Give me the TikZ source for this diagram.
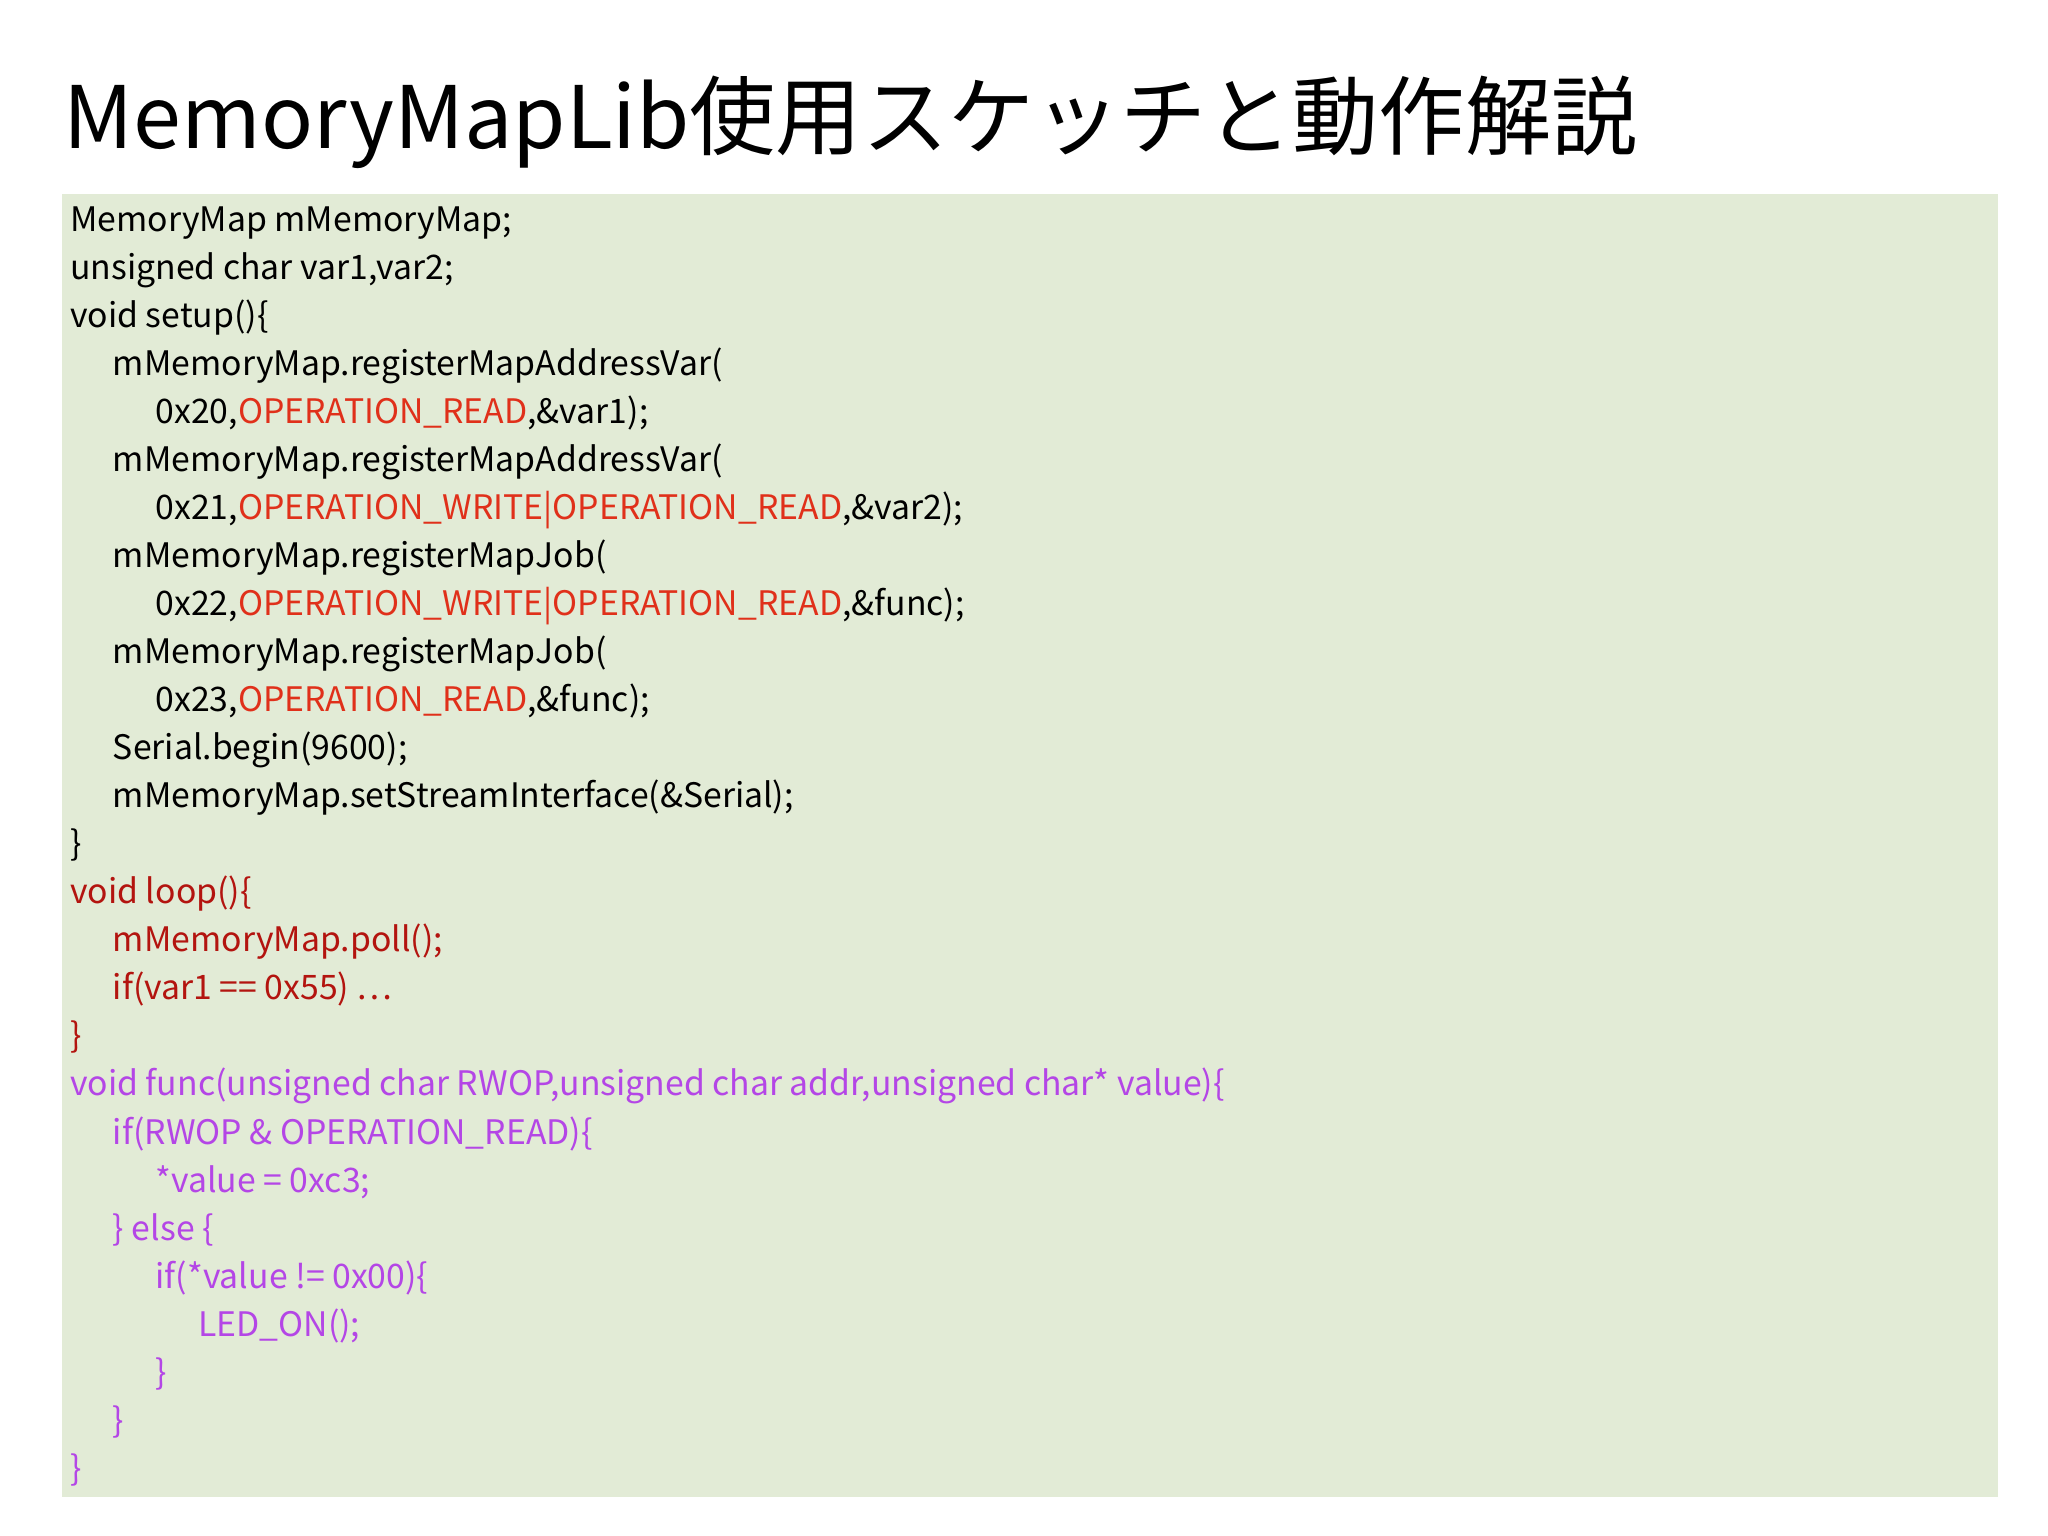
\documentclass[tikz,border=0pt]{standalone}
\usepackage{fontspec}
\setmainfont{Noto Sans CJK JP}
\definecolor{bg}{HTML}{E2EBD6}
\definecolor{opred}{HTML}{E0301A}
\definecolor{lpred}{HTML}{B3140F}
\definecolor{fpur}{HTML}{B446E6}
\begin{document}
\begin{tikzpicture}[x=0.013128cm,y=-0.013128cm,
  code/.style={anchor=base west,inner sep=0pt,font=\fontsize{9.6pt}{11pt}\selectfont},
  ]
\useasboundingbox (0,0) rectangle (1560,1170);
\fill[white] (0,0) rectangle (1560,1170);
\fill[bg] (47,148) rectangle (1522,1140);
\node[anchor=base west,inner sep=0pt,font=\fontsize{24.5pt}{28pt}\selectfont] (title) at (48,113) {MemoryMapLib使用スケッチと動作解説};
\newcommand{\cl}[4]{\node[code,text=#3] (#1) at ({53+32.5*#2},{176+36.6*#1}) {#4};}
\newcommand{\OP}[1]{\textcolor{opred}{#1}}
\cl{0}{0}{black}{MemoryMap mMemoryMap;}
\cl{1}{0}{black}{unsigned char var1,var2;}
\cl{2}{0}{black}{void setup()\{}
\cl{3}{1}{black}{mMemoryMap.registerMapAddressVar(}
\cl{4}{2}{black}{0x20,\OP{OPERATION\_READ},\&var1);}
\cl{5}{1}{black}{mMemoryMap.registerMapAddressVar(}
\cl{6}{2}{black}{0x21,\OP{OPERATION\_WRITE|OPERATION\_READ},\&var2);}
\cl{7}{1}{black}{mMemoryMap.registerMapJob(}
\cl{8}{2}{black}{0x22,\OP{OPERATION\_WRITE|OPERATION\_READ},\&func);}
\cl{9}{1}{black}{mMemoryMap.registerMapJob(}
\cl{10}{2}{black}{0x23,\OP{OPERATION\_READ},\&func);}
\cl{11}{1}{black}{Serial.begin(9600);}
\cl{12}{1}{black}{mMemoryMap.setStreamInterface(\&Serial);}
\cl{13}{0}{black}{\}}
\cl{14}{0}{lpred}{void loop()\{}
\cl{15}{1}{lpred}{mMemoryMap.poll();}
\cl{16}{1}{lpred}{if(var1 == 0x55) …}
\cl{17}{0}{lpred}{\}}
\cl{18}{0}{fpur}{void func(unsigned char RWOP,unsigned char addr,unsigned char* value)\{}
\cl{19}{1}{fpur}{if(RWOP \& OPERATION\_READ)\{}
\cl{20}{2}{fpur}{*value = 0xc3;}
\cl{21}{1}{fpur}{\} else \{}
\cl{22}{2}{fpur}{if(*value != 0x00)\{}
\cl{23}{3}{fpur}{LED\_ON();}
\cl{24}{2}{fpur}{\}}
\cl{25}{1}{fpur}{\}}
\cl{26}{0}{fpur}{\}}
\end{tikzpicture}
\end{document}
